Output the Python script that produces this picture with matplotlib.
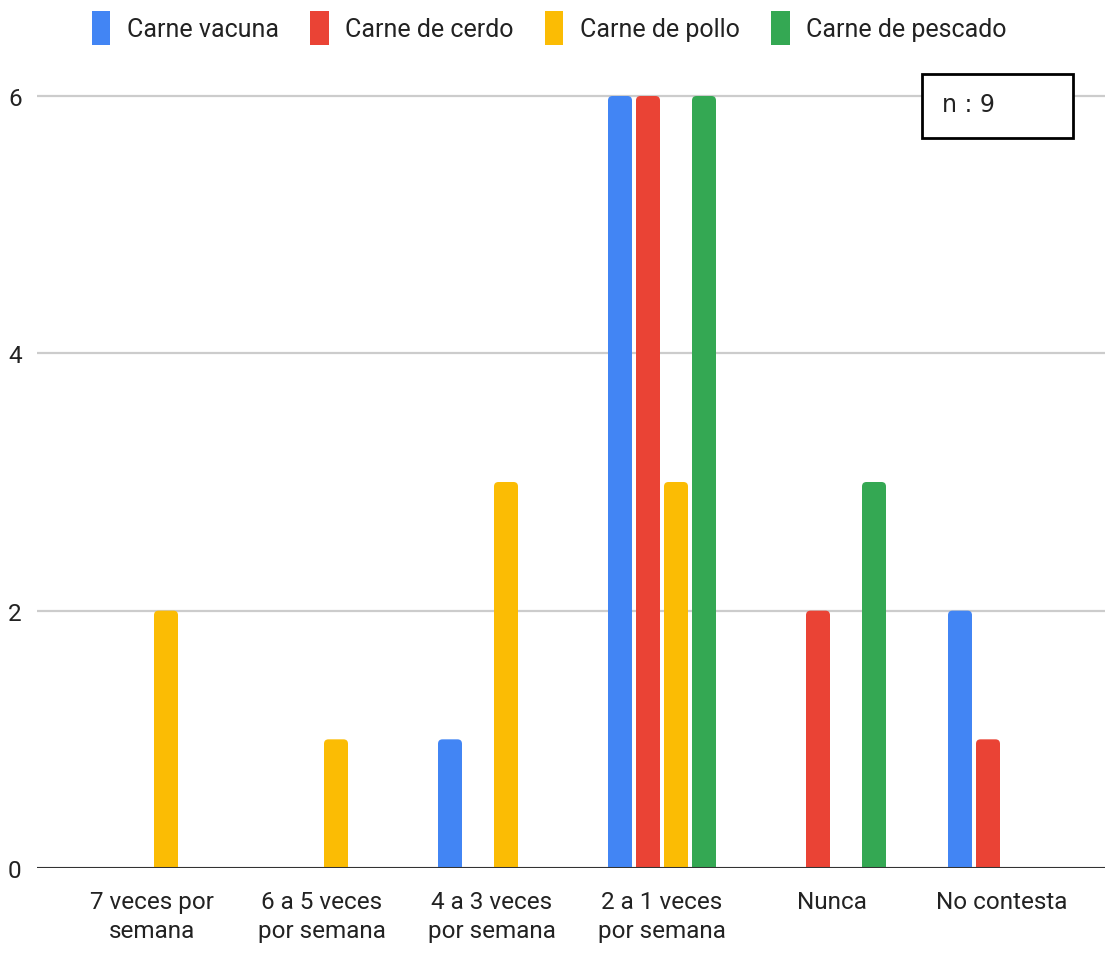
import matplotlib
matplotlib.use("Agg")
import matplotlib.pyplot as plt
from matplotlib.patches import Rectangle, Patch, FancyBboxPatch
import numpy as np

categories = ["7 veces por\nsemana", "6 a 5 veces\npor semana", "4 a 3 veces\npor semana",
              "2 a 1 veces\npor semana", "Nunca", "No contesta"]
series_names = ["Carne vacuna", "Carne de cerdo", "Carne de pollo", "Carne de pescado"]
vacuna = [0, 0, 1, 6, 0, 2]
cerdo = [0, 0, 0, 6, 2, 1]
pollo = [2, 1, 3, 3, 0, 0]
pescado = [0, 0, 0, 6, 3, 0]
yticks = [0, 2, 4, 6]
n_label = "n : 9"

colors = ["#4285F4", "#EA4335", "#FBBC04", "#34A853"]
plt.rcParams["font.family"] = ["Roboto", "DejaVu Sans"]

W, H = 1105, 954
fig = plt.figure(figsize=(W / 100, H / 100), dpi=100)
ymax = 6.3
px_per_y = (869 - 97) / 6
px_per_x = 170
bottom_px, top_px = 869, 869 - ymax * px_per_y
ax = fig.add_axes([37 / W, (H - bottom_px) / H, 1 - 37 / W, (bottom_px - top_px) / H])

x = np.arange(len(categories))
step = 28 / px_per_x
width = 24 / px_per_x
radius_px = 4.5
rx = radius_px / px_per_x
ry = radius_px / px_per_y
for i, (vals, c) in enumerate(zip([vacuna, cerdo, pollo, pescado], colors)):
    bars = ax.bar(x + (i - 1.5) * step, vals, width=width, color=c, zorder=3)
    # swap each plain bar for one with rounded top corners
    for rect in bars:
        rect.set_visible(False)
        h = rect.get_height()
        if h <= 0:
            continue
        ax.add_patch(FancyBboxPatch((rect.get_x(), -ry), rect.get_width(), h + ry,
                                    boxstyle=f"round,pad=0,rounding_size={rx}",
                                    mutation_aspect=ry / rx, facecolor=c,
                                    edgecolor="none", zorder=3))

ax.set_xlim((37 - 152) / px_per_x, (1105 - 152) / px_per_x)
ax.set_ylim(0, ymax)
ax.set_yticks(yticks)
ax.set_yticklabels([str(v) for v in yticks], fontsize=17.5, color="#222222")
ax.set_xticks(x)
ax.set_xticklabels(categories, fontsize=17.5, color="#222222", linespacing=1.3)
ax.tick_params(axis="both", length=0)
ax.tick_params(axis="x", pad=16)
ax.tick_params(axis="y", pad=11)
for s in ax.spines.values():
    s.set_visible(False)
ax.grid(axis="y", color="#cccccc", linewidth=1.6, zorder=0)
ax.axhline(0, color="#333333", linewidth=2.2, zorder=4)

handles = [Patch(facecolor=c, edgecolor="none") for c in colors]
fig.legend(handles, series_names, loc="center", bbox_to_anchor=(549 / W, 1 - 29 / H), ncol=4,
           frameon=False, fontsize=18, handlelength=0.75, handleheight=1.75,
           handletextpad=0.65, columnspacing=1.25, labelcolor="#222222")

fig.patches.append(Rectangle((922 / W, 1 - 139 / H), 151 / W, 64 / H, transform=fig.transFigure,
                             facecolor="white", edgecolor="black", linewidth=2, zorder=5))
fig.text(942 / W, 1 - 105 / H, n_label, fontsize=17, family="DejaVu Sans",
         va="center", ha="left", color="#222222", zorder=6)

fig.savefig("out.png", dpi=100)
